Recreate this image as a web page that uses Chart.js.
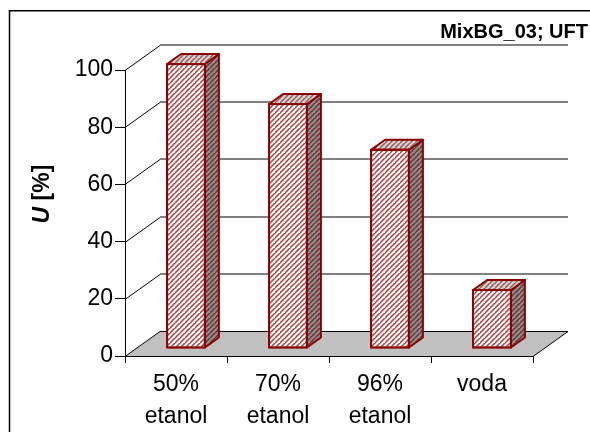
<!DOCTYPE html>
<html>
<head>
<meta charset="utf-8">
<script src="https://cdn.jsdelivr.net/npm/chart.js@4.4.0/dist/chart.umd.min.js"></script>
<style>
  html, body { margin: 0; padding: 0; background: #fff; }
  canvas { display: block; }
</style>
</head>
<body>
<canvas id="myChart" width="590" height="432"></canvas>
<script>
const categories = [['50%', 'etanol'], ['70%', 'etanol'], ['96%', 'etanol'], ['voda']];
const values = [100, 86, 70, 21];
const yTicks = [0, 20, 40, 60, 80, 100];
const chartTitle = 'MixBG_03; UFT';

const FONT = '"Liberation Sans", Arial, sans-serif';
// oblique depth of the floor / back wall and of the bars
const wallDX = 35, wallDY = -25;
const barShiftX = 10, barShiftY = -7;
const barDX = 14, barDY = -10;

function hatch(bg, fg) {
    const n = 5;
    const c = document.createElement('canvas');
    c.width = n; c.height = n;
    const g = c.getContext('2d');
    g.fillStyle = bg;
    g.fillRect(0, 0, n, n);
    g.strokeStyle = fg;
    g.lineWidth = 1.5;
    g.beginPath();
    g.moveTo(-1, n + 1); g.lineTo(n + 1, -1);
    g.moveTo(-n - 1, n + 1); g.lineTo(1, -1);
    g.moveTo(n - 1, 2 * n + 1); g.lineTo(2 * n + 1, n - 1);
    g.stroke();
    return g.createPattern(c, 'repeat');
}

const ctx = document.getElementById('myChart').getContext('2d');
const frontFill = hatch('#ffffff', '#b03a3a');
const sideFill = hatch('#8e8e8e', '#6e3030');
const topFill = hatch('#d2d2d2', '#a05a5a');

const threeD = {
    id: 'threeD',
    beforeDatasetsDraw(chart) {
        const c = chart.ctx, a = chart.chartArea, y = chart.scales.y;
        c.save();
        // back wall grid lines + diagonals
        yTicks.forEach(v => {
            if (v === 0) return;
            const py = Math.round(y.getPixelForValue(v));
            c.strokeStyle = '#808080';
            c.lineWidth = 2;
            c.beginPath();
            c.moveTo(a.left + wallDX, py + wallDY);
            c.lineTo(a.right + wallDX, py + wallDY);
            c.stroke();
            c.strokeStyle = '#000';
            c.lineWidth = 1;
            c.beginPath();
            c.moveTo(a.left, py + 0.5);
            c.lineTo(a.left + wallDX, py + wallDY + 0.5);
            c.stroke();
        });
        // floor
        const b = y.getPixelForValue(0) + 0.5;
        c.fillStyle = '#c0c0c0';
        c.strokeStyle = '#000';
        c.lineWidth = 1;
        c.beginPath();
        c.moveTo(a.left, b);
        c.lineTo(a.left + wallDX, b + wallDY);
        c.lineTo(a.right + wallDX, b + wallDY);
        c.lineTo(a.right, b);
        c.closePath();
        c.fill();
        c.stroke();
        c.restore();
    },
    beforeDatasetDraw(chart) {
        chart.ctx.save();
        chart.ctx.translate(barShiftX, barShiftY);
    },
    afterDatasetDraw(chart, args) {
        const c = chart.ctx;
        args.meta.data.forEach(bar => {
            const l = bar.x - bar.width / 2 + 1, r = bar.x + bar.width / 2 - 1;
            const t = bar.y + 1, bt = bar.base - 1;
            c.lineWidth = 2;
            c.lineJoin = 'round';
            c.strokeStyle = '#8b0000';
            c.fillStyle = sideFill;
            c.beginPath();
            c.moveTo(r, t);
            c.lineTo(r + barDX, t + barDY);
            c.lineTo(r + barDX, bt + barDY);
            c.lineTo(r, bt);
            c.closePath();
            c.fill();
            c.stroke();
            c.fillStyle = topFill;
            c.beginPath();
            c.moveTo(l, t);
            c.lineTo(l + barDX, t + barDY);
            c.lineTo(r + barDX, t + barDY);
            c.lineTo(r, t);
            c.closePath();
            c.fill();
            c.stroke();
            c.strokeRect(l, t, r - l, bt - t);
        });
        c.restore();
    },
    afterDraw(chart) {
        const c = chart.ctx;
        c.save();
        // outer frame
        c.strokeStyle = '#000';
        c.lineWidth = 1.5;
        c.beginPath();
        c.moveTo(9.5, 440);
        c.lineTo(9.5, 10.75);
        c.lineTo(600, 10.75);
        c.stroke();
        // title
        c.fillStyle = '#000';
        c.font = 'bold 20px ' + FONT;
        c.textAlign = 'right';
        c.textBaseline = 'alphabetic';
        c.fillText(chartTitle, 588, 38);
        // y axis title: italic U + [%]
        c.translate(49, 194);
        c.rotate(-Math.PI / 2);
        c.textAlign = 'left';
        c.font = 'italic bold 23px ' + FONT;
        const w1 = c.measureText('U').width;
        c.font = 'bold 23px ' + FONT;
        const w2 = c.measureText(' [%]').width;
        const x0 = -(w1 + w2) / 2;
        c.font = 'italic bold 23px ' + FONT;
        c.fillText('U', x0, 0);
        c.font = 'bold 23px ' + FONT;
        c.fillText(' [%]', x0 + w1, 0);
        c.restore();
    }
};

const myChart = new Chart(ctx, {
    type: 'bar',
    data: {
        labels: categories,
        datasets: [{
            data: values,
            backgroundColor: frontFill,
            borderColor: '#8b0000',
            borderWidth: 2,
            borderSkipped: false,
            barPercentage: 0.39,
            categoryPercentage: 1,
            clip: false
        }]
    },
    options: {
        responsive: false,
        animation: false,
        devicePixelRatio: 1,
        layout: { padding: { left: 0, right: 57, top: 70, bottom: 0 } },
        plugins: {
            legend: { display: false },
            tooltip: { enabled: false }
        },
        scales: {
            x: {
                afterFit: s => { s.height = 76; },
                grid: { offset: true, drawOnChartArea: false, tickLength: 7, color: '#000' },
                border: { color: '#000' },
                ticks: {
                    color: '#000',
                    maxRotation: 0,
                    padding: 6,
                    font: { family: FONT, size: 23, lineHeight: 1.38 }
                }
            },
            y: {
                min: 0,
                max: 100,
                afterFit: s => { s.width = 125; },
                afterBuildTicks: s => { s.ticks = yTicks.map(v => ({ value: v })); },
                grid: { drawOnChartArea: false, tickLength: 10, color: '#000' },
                border: { color: '#000' },
                ticks: {
                    color: '#000',
                    padding: 2,
                    font: { family: FONT, size: 23 }
                }
            }
        }
    },
    plugins: [threeD]
});
</script>
</body>
</html>
